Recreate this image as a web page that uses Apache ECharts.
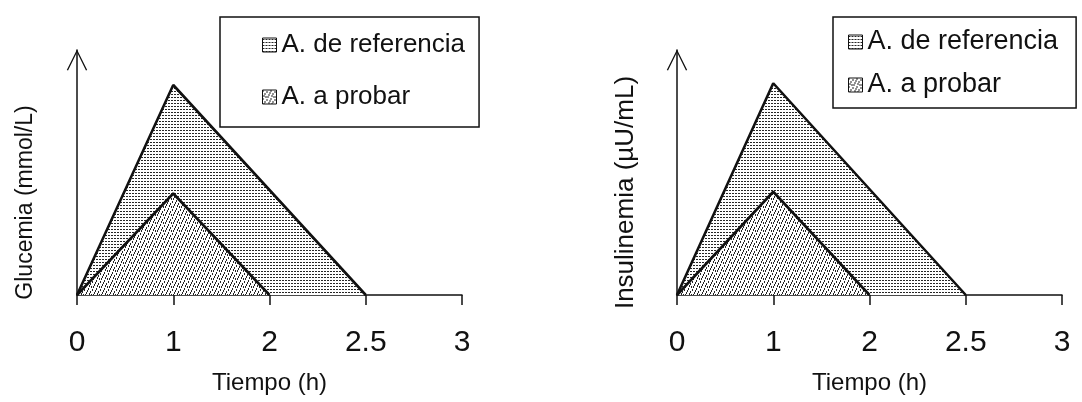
<!DOCTYPE html>
<html>
<head>
<meta charset="utf-8">
<script src="https://cdn.jsdelivr.net/npm/echarts@6/dist/echarts.min.js"></script>
<style>
html,body{margin:0;padding:0;background:#fff;}
#chart{width:1082px;height:402px;}
</style>
</head>
<body>
<div id="chart"></div>
<script>
// ---- data ----
const categories = ['0', '1', '2', '2.5', '3'];
const refGlucose = [0, 6.0, null, 0, null];
const testGlucose = [0, 2.9, 0, null, null];
const refInsulin = [0, 6.05, null, 0, null];
const testInsulin = [0, 2.95, 0, null, null];
const seriesNames = ['A. de referencia', 'A. a probar'];
const xTitle = 'Tiempo (h)';
const yTitles = ['Glucemia (mmol/L)', 'Insulinemia (µU/mL)'];
const yMax = 7;

// ---- fill patterns ----
function makePattern(w, h, marks, mw, mh) {
  const c = document.createElement('canvas');
  c.width = w; c.height = h;
  const g = c.getContext('2d');
  g.fillStyle = '#ffffff';
  g.fillRect(0, 0, w, h);
  g.fillStyle = '#262626';
  marks.forEach(function (m) { g.fillRect(m[0], m[1], mw, mh); });
  return { image: c, repeat: 'repeat' };
}
const refPattern = makePattern(6, 3, [[0, 1], [1, 1], [3, 1], [4, 1]], 1, 1);
const testPattern = makePattern(8, 8, [[0, 0], [4, 1], [2, 3], [6, 4], [1, 5], [5, 6], [3, 6], [7, 2]], 1, 2);

const FONT = 'Liberation Sans, Arial, Helvetica, sans-serif';
const arrowPath = 'path://M0,20 L10,0 L20,20 L18.8,20.6 L10,2.6 L1.2,20.6 Z';

function xAxisFor(gi) {
  return {
    type: 'category', gridIndex: gi, data: categories, boundaryGap: false,
    axisLine: { lineStyle: { color: '#111', width: 1.5 } },
    axisTick: { show: true, length: 10, lineStyle: { color: '#111', width: 1.5 } },
    axisLabel: { color: '#111', fontSize: 30, fontFamily: FONT, margin: 33 },
    splitLine: { show: false },
    name: xTitle, nameLocation: 'middle', nameGap: 76,
    nameTextStyle: { color: '#111', fontSize: 24, fontFamily: FONT }
  };
}
function yAxisFor(gi, title, fs, shift) {
  return {
    type: 'value', gridIndex: gi, min: 0, max: yMax,
    axisLine: { show: true, symbol: ['none', arrowPath], symbolSize: [22, 21], symbolOffset: [0, -10],
      lineStyle: { color: '#111', width: 1.5 } },
    axisTick: { show: false }, axisLabel: { show: false }, splitLine: { show: false },
    name: title, nameLocation: 'middle', nameGap: gi === 0 ? 40 : 38,
    nameTextStyle: { color: '#111', fontSize: fs, fontFamily: FONT, padding: [0, shift, 0, 0] }
  };
}
function areaSeries(name, data, gi, pattern, z) {
  return {
    type: 'line', name: name, data: data, xAxisIndex: gi, yAxisIndex: gi,
    connectNulls: true, showSymbol: false, symbol: 'none', z: z,
    lineStyle: { color: '#111', width: 2.6 },
    areaStyle: { color: pattern, opacity: 1 },
    silent: true
  };
}
function legendFor(left, top, padding, fs, gap) {
  return {
    orient: 'vertical', left: left, top: top, padding: padding, itemGap: gap,
    itemWidth: 14, itemHeight: 14, selectedMode: false,
    borderColor: '#111', borderWidth: 1.5, backgroundColor: '#fff',
    textStyle: { color: '#111', fontSize: fs, lineHeight: 28, fontFamily: FONT },
    data: [
      { name: seriesNames[0], icon: 'rect', itemStyle: { color: refPattern, borderColor: '#111', borderWidth: 1 } },
      { name: seriesNames[1], icon: 'rect', itemStyle: { color: testPattern, borderColor: '#111', borderWidth: 1 } }
    ]
  };
}

const chart = echarts.init(document.getElementById('chart'), null, { renderer: 'canvas' });
chart.setOption({
  animation: false,
  backgroundColor: '#fff',
  grid: [
    { left: 77, top: 50, width: 385, height: 245 },
    { left: 677, top: 50, width: 385, height: 245 }
  ],
  xAxis: [xAxisFor(0), xAxisFor(1)],
  yAxis: [yAxisFor(0, yTitles[0], 23, 60), yAxisFor(1, yTitles[1], 26, 40)],
  legend: [
    legendFor(220, 17, [14, 14, 16, 42], 26, 24),
    legendFor(833, 17, [11, 18, 9, 15], 27, 15)
  ],
  series: [
    areaSeries(seriesNames[0], refGlucose, 0, refPattern, 2),
    areaSeries(seriesNames[1], testGlucose, 0, testPattern, 3),
    areaSeries(seriesNames[0], refInsulin, 1, refPattern, 2),
    areaSeries(seriesNames[1], testInsulin, 1, testPattern, 3)
  ]
});
</script>
</body>
</html>
